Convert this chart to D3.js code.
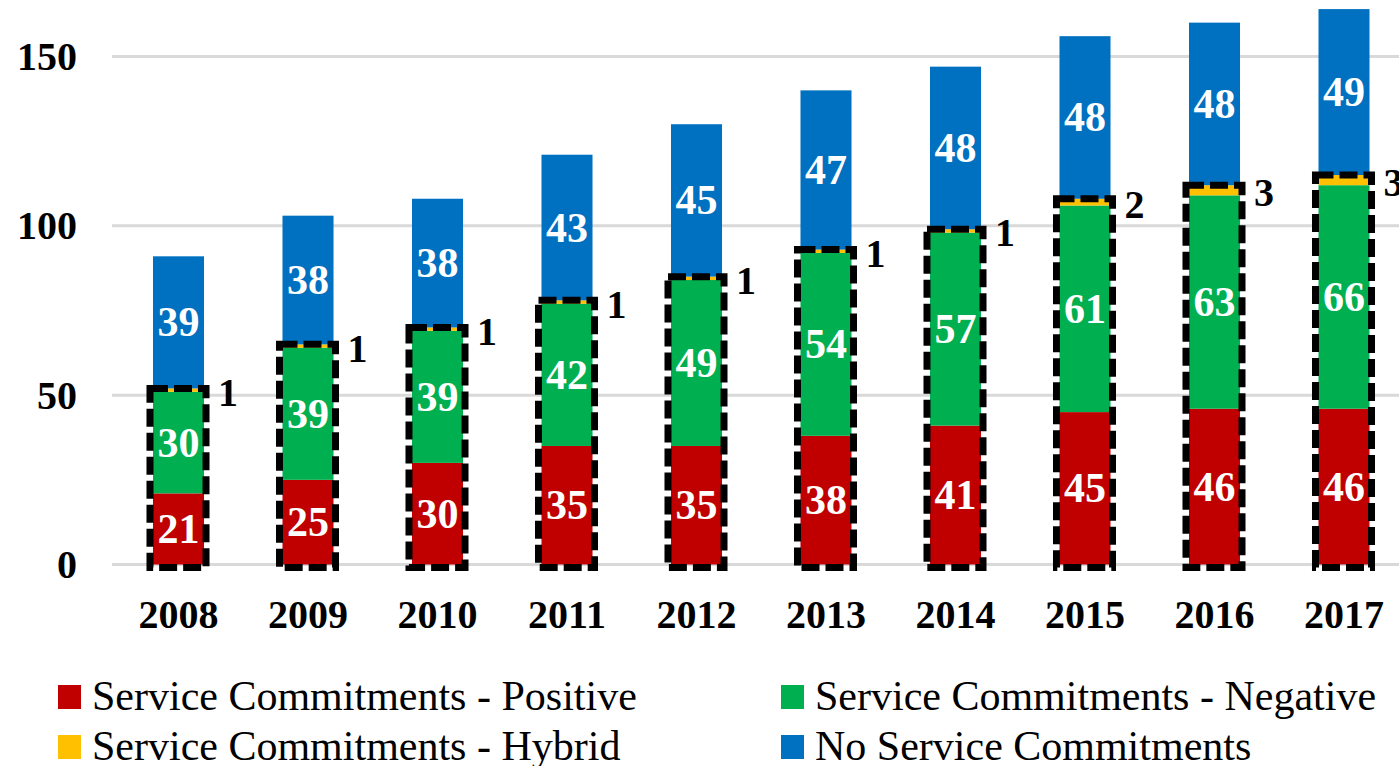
<!DOCTYPE html>
<html>
<head>
<meta charset="utf-8">
<script src="https://cdn.jsdelivr.net/npm/d3@7"></script>
<style>
  html, body { margin: 0; padding: 0; background: #fff; }
  svg { display: block; font-family: "Liberation Serif", "Times New Roman", serif; }
</style>
</head>
<body>
<div id="app"></div>
<script>
const years = ['2008', '2009', '2010', '2011', '2012', '2013', '2014', '2015', '2016', '2017'];
const positive = [21, 25, 30, 35, 35, 38, 41, 45, 46, 46];
const negative = [30, 39, 39, 42, 49, 54, 57, 61, 63, 66];
const hybrid = [1, 1, 1, 1, 1, 1, 1, 2, 3, 3];
const noService = [39, 38, 38, 43, 45, 47, 48, 48, 48, 49];
const yTicks = [0, 50, 100, 150];

const seriesNames = ['Service Commitments - Positive', 'Service Commitments - Negative',
  'Service Commitments - Hybrid', 'No Service Commitments'];
const seriesKeys = ['positive', 'negative', 'hybrid', 'noService'];
const colors = ['#C00000', '#00B050', '#FFC000', '#0070C0'];

const conf = { width: 1399, height: 766 };

const rows = years.map((y, i) => ({
  year: y,
  positive: positive[i],
  negative: negative[i],
  hybrid: hybrid[i],
  noService: noService[i]
}));

const svg = d3.select('#app').append('svg')
  .attr('width', conf.width)
  .attr('height', conf.height);

const x = d3.scaleBand()
  .domain(years)
  .range([113.75, 1408.75])
  .paddingInner(0.606)
  .paddingOuter(0.303);

const y = d3.scaleLinear()
  .domain([0, 150])
  .range([564.5, 56.5]);

// grid lines + tick labels
const grid = svg.append('g');
grid.selectAll('line')
  .data(yTicks)
  .join('line')
  .attr('x1', 112)
  .attr('x2', conf.width)
  .attr('y1', d => y(d))
  .attr('y2', d => y(d))
  .attr('stroke', '#D9D9D9')
  .attr('stroke-width', 3);

grid.selectAll('text')
  .data(yTicks)
  .join('text')
  .attr('x', 77)
  .attr('y', d => y(d))
  .attr('text-anchor', 'end')
  .attr('dominant-baseline', 'central')
  .attr('font-size', 40)
  .attr('font-weight', 'bold')
  .text(d => d);

// stacked bars
const stacked = d3.stack().keys(seriesKeys)(rows);

const layers = svg.append('g')
  .selectAll('g')
  .data(stacked)
  .join('g')
  .attr('fill', (d, i) => colors[i]);

layers.selectAll('rect')
  .data(d => d)
  .join('rect')
  .attr('x', d => x(d.data.year))
  .attr('y', d => y(d[1]))
  .attr('width', x.bandwidth())
  .attr('height', d => y(d[0]) - y(d[1]));

// dashed outline round the commitment part
svg.append('g')
  .selectAll('rect')
  .data(rows)
  .join('rect')
  .attr('x', d => x(d.year) - 3)
  .attr('y', d => y(d.positive + d.negative + d.hybrid))
  .attr('width', x.bandwidth() + 5)
  .attr('height', d => y(0) + 3 - y(d.positive + d.negative + d.hybrid))
  .attr('fill', 'none')
  .attr('stroke', '#000')
  .attr('stroke-width', 7)
  .attr('stroke-dasharray', '18,6');

// labels inside segments (hybrid goes outside, to the right)
const labelLayers = svg.append('g')
  .selectAll('g')
  .data(stacked)
  .join('g');

labelLayers.filter(d => d.key !== 'hybrid')
  .selectAll('text')
  .data(d => d)
  .join('text')
  .attr('x', d => x(d.data.year) + x.bandwidth() / 2)
  .attr('y', d => y((d[0] + d[1]) / 2))
  .attr('text-anchor', 'middle')
  .attr('dominant-baseline', 'central')
  .attr('font-size', 42)
  .attr('font-weight', 'bold')
  .attr('fill', '#fff')
  .text(d => d[1] - d[0]);

labelLayers.filter(d => d.key === 'hybrid')
  .selectAll('text')
  .data(d => d)
  .join('text')
  .attr('x', d => x(d.data.year) + x.bandwidth() + 14)
  .attr('y', d => y((d[0] + d[1]) / 2) + 2)
  .attr('dominant-baseline', 'central')
  .attr('font-size', 40)
  .attr('font-weight', 'bold')
  .attr('fill', '#000')
  .text(d => d[1] - d[0]);

// year labels
svg.append('g')
  .selectAll('text')
  .data(years)
  .join('text')
  .attr('x', d => x(d) + x.bandwidth() / 2)
  .attr('y', 628)
  .attr('text-anchor', 'middle')
  .attr('font-size', 40)
  .attr('font-weight', 'bold')
  .text(d => d);

// legend, two columns
const legendPos = [
  { x: 58, y: 685 },
  { x: 781, y: 685 },
  { x: 58, y: 735 },
  { x: 781, y: 735 }
];

const legend = svg.append('g')
  .selectAll('g')
  .data(seriesNames)
  .join('g')
  .attr('transform', (d, i) => `translate(${legendPos[i].x}, ${legendPos[i].y})`);

legend.append('rect')
  .attr('width', 23)
  .attr('height', 24)
  .attr('fill', (d, i) => colors[i]);

legend.append('text')
  .attr('x', 34)
  .attr('y', 25)
  .attr('font-size', 42)
  .text(d => d);
</script>
</body>
</html>
